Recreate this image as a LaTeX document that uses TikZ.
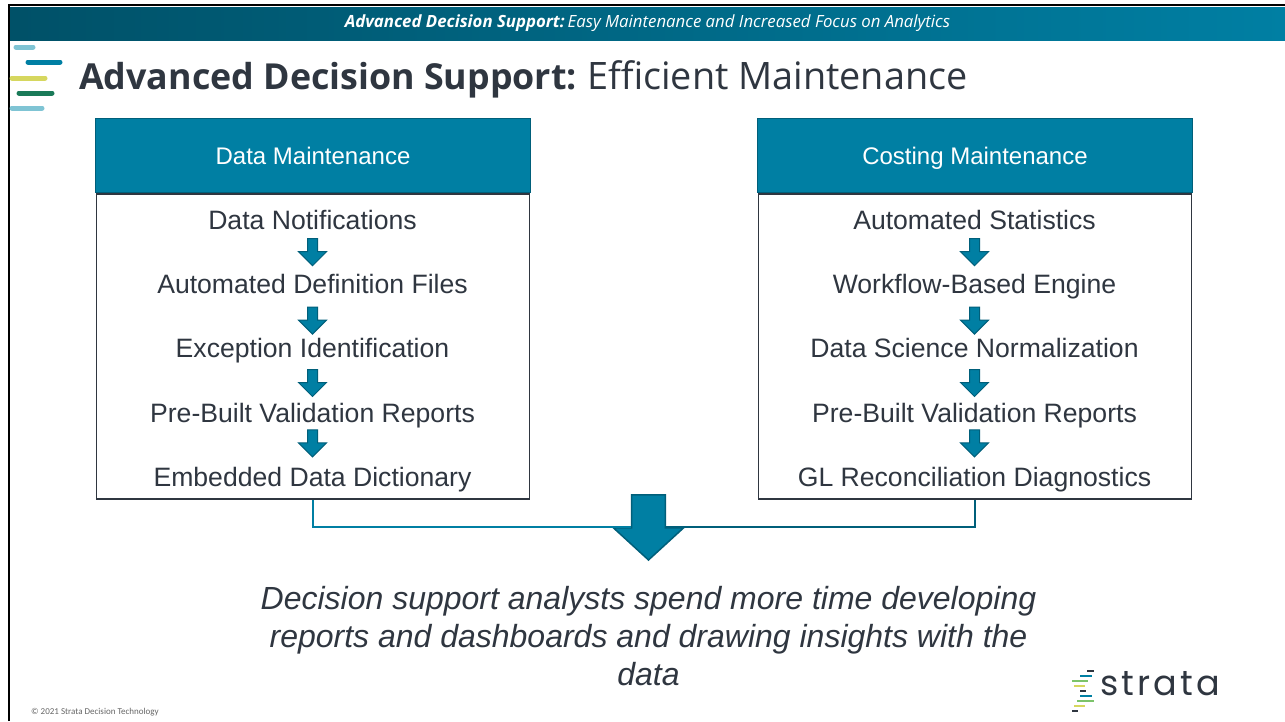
\documentclass[tikz,border=0pt]{standalone}
\usepackage{fontspec}
\setmainfont{Liberation Sans}
\newfontfamily\titlefont{Open Sans}
\newfontfamily\smallfont{Carlito}
\newfontfamily\logofont[LetterSpace=9]{Poppins}
\usetikzlibrary{positioning,calc,shapes.arrows}
\definecolor{stTeal}{HTML}{007FA3}
\definecolor{stDark}{HTML}{005F7A}
\definecolor{stInk}{HTML}{2F3640}
\definecolor{stPale}{HTML}{7FC4D4}
\definecolor{stOlive}{HTML}{D6D75F}
\definecolor{stGreen}{HTML}{1A7A58}
\definecolor{stLeaf}{HTML}{7CC36A}

\begin{document}
\begin{tikzpicture}[x=1pt,y=1pt]

    \tikzstyle{head} = [rectangle, minimum width=435pt, minimum height=74pt, inner sep=0pt, text height=20pt, text depth=2pt, draw=stDark, line width=1.5pt, fill=stTeal, text=white, font=\fontsize{24}{28}\selectfont]
    \tikzstyle{body} = [rectangle, minimum width=433pt, minimum height=305pt, inner sep=0pt, draw=stInk, line width=1.5pt, fill=white]
    \tikzstyle{item} = [inner sep=0pt, text height=17pt, text depth=6pt, text=stInk, font=\fontsize{26.6}{30}\selectfont]
    \tikzstyle{down} = [single arrow, shape border rotate=270, single arrow tip angle=90, single arrow head extend=9pt, minimum width=28pt, minimum height=27pt, text width=9pt, inner sep=0pt, fill=stTeal, draw=stDark, line width=1pt]
    \tikzstyle{bar} = [line width=5pt, line cap=round]
    \tikzstyle{tick} = [line width=1.6pt]

    \useasboundingbox (0,0) rectangle (1285,-721);
    \fill [white] (0,0) rectangle (1285,-721);

    \draw [black, line width=2.5pt] (9,-721) -- (9,-5) -- (1285,-5);

    \node [rectangle, minimum width=1275pt, minimum height=33pt, inner sep=0pt, left color=stDark!85!black, right color=stTeal, text=white, font=\titlefont\fontsize{16.8}{20}\selectfont] (banner) at (647.5,-23.5) {\textbf{\textit{Advanced Decision Support:}}\hspace{3pt}\textit{Easy Maintenance and Increased Focus on Analytics}};

    % stripes beside the title
    \draw [bar, draw=stPale] (16,-47) -- (33,-47);
    \draw [bar, draw=stTeal] (28,-62) -- (60,-62);
    \draw [bar, draw=stOlive] (12,-78) -- (45,-78);
    \draw [bar, draw=stGreen] (19,-93) -- (52,-93);
    \draw [bar, draw=stPale] (12,-108) -- (42,-108);

    \node [anchor=west, inner sep=0pt, text=stInk, font=\titlefont] (title) at (79,-79) {{\fontsize{35.8}{40}\selectfont\textbf{Advanced Decision Support:}}\hspace{10pt}{\fontsize{37.8}{40}\selectfont Efficient Maintenance}};

    % left column
    \node [head] (dataHead) at (313,-155.5) {Data Maintenance};
    \node [body] (dataBody) [below=0pt of dataHead] {};
    \node [item] (dataA) at (312.5,-223.5) {Data Notifications};
    \node [item] (dataB) [below=41pt of dataA] {Automated Definition Files};
    \node [item] (dataC) [below=41pt of dataB] {Exception Identification};
    \node [item] (dataD) [below=41pt of dataC] {Pre-Built Validation Reports};
    \node [item] (dataE) [below=41pt of dataD] {Embedded Data Dictionary};
    \node [down] (dataAB) [below=3pt of dataA] {};
    \node [down] (dataBC) [below=7pt of dataB] {};
    \node [down] (dataCD) [below=5pt of dataC] {};
    \node [down] (dataDE) [below=1pt of dataD] {};

    % right column
    \node [head] (costHead) at (975,-155.5) {Costing Maintenance};
    \node [body] (costBody) [below=0pt of costHead] {};
    \node [item] (costA) at (974.5,-223.5) {Automated Statistics};
    \node [item] (costB) [below=41pt of costA] {Workflow-Based Engine};
    \node [item] (costC) [below=41pt of costB] {Data Science Normalization};
    \node [item] (costD) [below=41pt of costC] {Pre-Built Validation Reports};
    \node [item] (costE) [below=41pt of costD] {GL Reconciliation Diagnostics};
    \node [down] (costAB) [below=3pt of costA] {};
    \node [down] (costBC) [below=7pt of costB] {};
    \node [down] (costCD) [below=5pt of costC] {};
    \node [down] (costDE) [below=1pt of costD] {};

    \node [down, anchor=tip, minimum width=70pt, minimum height=65pt, text width=32pt, single arrow tip angle=95, single arrow head extend=18pt, line width=1.5pt] (merge) at (648.5,-561) {};

    \draw [stTeal, line width=1.5pt] (dataBody.south) |- (merge.after head);
    \draw [stDark, line width=1.5pt] (costBody.south) |- (merge.before head);

    \node [below=25pt of merge.tip, anchor=north, align=center, inner sep=0pt, text=stInk, font=\fontsize{32}{38}\selectfont\itshape] (result) {Decision support analysts spend more time developing\\reports and dashboards and drawing insights with the\\data};

    \node [anchor=west, inner sep=0pt, text=gray!80!black, font=\smallfont\fontsize{9}{11}\selectfont] (copyright) at (31,-712) {© 2021 Strata Decision Technology};

    % small logo
    \node [anchor=west, inner sep=0pt, text=stInk, font=\logofont\fontsize{35}{40}\selectfont] (logo) at (1100,-684) {strata};
    \draw [tick, draw=stInk] (1087,-671) -- (1094,-671);
    \draw [tick, draw=stTeal] (1080,-676) -- (1092,-676);
    \draw [tick, draw=stLeaf] (1072,-681) -- (1088,-681);
    \draw [tick, draw=stOlive] (1074,-686) -- (1085,-686);
    \draw [tick, draw=stInk] (1080,-691) -- (1086,-691);
    \draw [tick, draw=stTeal] (1080,-696) -- (1092,-696);
    \draw [tick, draw=stLeaf] (1077,-701) -- (1094,-701);
    \draw [tick, draw=stOlive] (1074,-706) -- (1085,-706);
    \draw [tick, draw=stInk] (1072,-711) -- (1078,-711);

\end{tikzpicture}
\end{document}
